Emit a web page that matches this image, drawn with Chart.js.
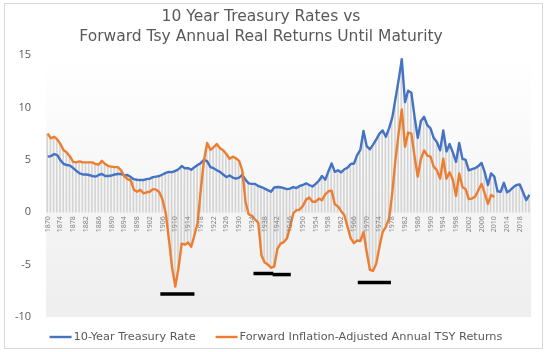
<!DOCTYPE html>
<html>
<head>
<meta charset="utf-8">
<script src="https://cdn.jsdelivr.net/npm/chart.js@4.4.1/dist/chart.umd.min.js"></script>
<style>
  html, body { margin: 0; padding: 0; background: #fff; }
  #wrap { position: relative; width: 548px; height: 352px; }
  #frame { position: absolute; left: 4px; top: 3px; width: 537px; height: 344px; border: 1px solid #d9d9d9; pointer-events: none; }
</style>
</head>
<body>
<div id="wrap">
  <canvas id="chart" width="548" height="352"></canvas>
  <div id="frame"></div>
</div>
<script>
var firstYear = 1870
var lastYear = 2021
var years = []
for (var yr = firstYear; yr <= lastYear; yr++) years.push(yr)

var titleLines = ['10 Year Treasury Rates vs', 'Forward Tsy Annual Real Returns Until Maturity']

// labels shown under the zero line, every 4th year
var tickYears = [1870, 1874, 1878, 1882, 1886, 1890, 1894, 1898, 1902, 1906,
  1910, 1914, 1918, 1922, 1926, 1930, 1934, 1938, 1942, 1946, 1950, 1954,
  1958, 1962, 1966, 1970, 1974, 1978, 1982, 1986, 1990, 1994, 1998, 2002,
  2006, 2010, 2014, 2018]

// 10-Year Treasury Rate, 1870-2021
var treasuryRate = [
  5.3, 5.35, 5.55, 5.45, 4.95, 4.6, 4.5, 4.45, 4.2, 3.95,
  3.7, 3.6, 3.6, 3.55, 3.45, 3.4, 3.55, 3.65, 3.45, 3.45,
  3.5, 3.6, 3.65, 3.65, 3.5, 3.55, 3.35, 3.15, 3.1, 3.07,
  3.07, 3.15, 3.2, 3.35, 3.4, 3.45, 3.6, 3.75, 3.85, 3.82,
  3.95, 4.1, 4.4, 4.2, 4.2, 4.05, 4.3, 4.5, 4.7, 5.0,
  4.85, 4.3, 4.2, 4.0, 3.85, 3.6, 3.35, 3.5, 3.3, 3.2,
  3.3, 3.55, 3.1, 2.75, 2.7, 2.7, 2.5, 2.4, 2.25, 2.1,
  1.96, 2.36, 2.4, 2.38, 2.3, 2.2, 2.25, 2.4, 2.3, 2.5,
  2.6, 2.75, 2.6, 2.45, 2.7, 3.0, 3.45, 3.1, 3.9, 4.65,
  3.85, 4.0, 3.8, 4.1, 4.25, 4.6, 4.65, 5.45, 5.95, 7.75,
  6.3, 6.0, 6.45, 6.95, 7.5, 7.8, 7.2, 8.0, 9.0, 10.8,
  12.6, 14.6, 10.5, 11.6, 11.4, 9.1, 7.1, 8.7, 9.1, 8.3,
  8.0, 7.1, 6.7, 5.9, 7.8, 5.8, 6.5, 5.7, 4.8, 6.6,
  5.1, 5.0, 4.0, 4.1, 4.2, 4.4, 4.7, 3.8, 2.6, 3.7,
  3.4, 2.0, 1.95, 2.8, 1.9, 2.1, 2.4, 2.6, 2.65, 1.9,
  1.15, 1.65
]

// Forward inflation-adjusted annual TSY returns, 1870-2010
var realReturns = [
  7.5, 7.05, 7.2, 6.95, 6.5, 5.9, 5.7, 5.3, 4.8, 4.75,
  4.85, 4.75, 4.75, 4.75, 4.75, 4.6, 4.55, 4.9, 4.6, 4.4,
  4.35, 4.3, 4.3, 4.0, 3.45, 3.15, 3.05, 2.15, 1.95, 2.15,
  1.8, 1.9, 1.95, 2.2, 2.15, 1.9, 1.2, -0.1, -2.6, -5.3,
  -7.1, -5.3, -3.0, -3.1, -2.9, -3.3, -2.2, -1.0, 2.2, 5.0,
  6.6, 5.95, 6.2, 6.5, 6.1, 5.9, 5.55, 5.1, 5.3, 5.15,
  4.9, 4.0, 1.0, -0.2, -0.35, -0.7, -1.0, -4.1, -4.8, -5.0,
  -5.3, -5.2, -3.5, -3.0, -2.85, -2.5, -1.4, -0.1, 0.2, 0.25,
  0.6, 1.2, 1.4, 1.0, 1.0, 1.3, 1.15, 1.7, 2.0, 2.05,
  0.75, 0.55, 0.1, -0.3, -1.4, -2.5, -2.95, -2.7, -2.75, -1.9,
  -3.8, -5.5, -5.6, -4.9, -3.3, -1.9, -1.4, -0.6, 1.8, 5.0,
  7.5, 9.8, 6.25, 7.6, 7.5, 5.3, 3.4, 5.1, 5.9, 5.4,
  5.3, 4.35, 4.0, 3.2, 5.1, 3.2, 3.8, 3.1, 1.55, 3.7,
  2.4, 2.2, 1.25, 1.3, 1.5, 2.1, 2.7, 1.8, 0.8, 1.65,
  1.45
]

// black marker bars under the big drawdowns
var markFrom = [1905.3, 1934.5, 1940.5, 1967.2]
var markTo = [1916.0, 1940.7, 1946.2, 1977.6]
var markLevel = [-7.8, -5.85, -5.95, -6.7]

// drop lines: from the lowest to the highest of zero and both series
var dropLines = years.map(function(yr, i) {
  var vals = [0, treasuryRate[i]]
  if (i < realReturns.length) vals.push(realReturns[i])
  return [Math.min.apply(null, vals), Math.max.apply(null, vals)]
})

var plotShade = {
  id: 'plotShade',
  beforeDraw: function(chart) {
    var a = chart.chartArea, ctx = chart.ctx
    var g = ctx.createLinearGradient(0, a.top, 0, a.bottom)
    g.addColorStop(0, '#ffffff')
    g.addColorStop(0.12, '#fdfdfd')
    g.addColorStop(1, '#eeeeee')
    ctx.save()
    ctx.fillStyle = g
    ctx.fillRect(a.left, a.top, a.right - a.left, a.bottom - a.top)
    ctx.restore()
  }
}

var yearLabels = {
  id: 'yearLabels',
  afterDatasetsDraw: function(chart) {
    var xs = chart.scales.x, ys = chart.scales.y, ctx = chart.ctx
    var y0 = ys.getPixelForValue(0)
    ctx.save()
    ctx.font = '7px "Open Sans"'
    ctx.fillStyle = '#808080'
    ctx.textAlign = 'right'
    ctx.textBaseline = 'middle'
    tickYears.forEach(function(t) {
      var px = xs.getPixelForValue(years.indexOf(t))
      ctx.save()
      ctx.translate(px, y0 + 4)
      ctx.rotate(-Math.PI / 2)
      ctx.fillText(String(t), 0, 0)
      ctx.restore()
    })
    ctx.restore()
  }
}

// title and legend placed like the original (slightly off-centre)
var titleAndLegend = {
  id: 'titleAndLegend',
  afterDraw: function(chart) {
    var ctx = chart.ctx
    ctx.save()
    ctx.fillStyle = '#595959'
    ctx.textAlign = 'center'
    ctx.textBaseline = 'middle'
    ctx.font = '15.5px "DejaVu Sans"'
    ctx.fillText(titleLines[0], 261, 17)
    ctx.fillText(titleLines[1], 261, 37)

    ctx.font = '11.3px "DejaVu Sans"'
    ctx.textAlign = 'left'
    var items = chart.data.datasets.slice(0, 2)
    var lineLen = 22, gapText = 2, gapItem = 20
    var widths = items.map(function(d) { return lineLen + gapText + ctx.measureText(d.label).width })
    var total = widths[0] + widths[1] + gapItem
    var x = 276 - total / 2, y = 337
    items.forEach(function(d, i) {
      ctx.strokeStyle = d.borderColor
      ctx.lineWidth = 2.4
      ctx.beginPath()
      ctx.moveTo(x, y)
      ctx.lineTo(x + lineLen, y)
      ctx.stroke()
      ctx.fillText(d.label, x + lineLen + gapText, y)
      x += widths[i] + gapItem
    })
    ctx.restore()
  }
}

var datasets = [
  {
    type: 'line',
    label: '10-Year Treasury Rate',
    data: treasuryRate,
    borderColor: '#4472C4',
    backgroundColor: '#4472C4',
    borderWidth: 2.4,
    pointRadius: 0,
    tension: 0,
    borderJoinStyle: 'round',
    order: 2
  },
  {
    type: 'line',
    label: 'Forward Inflation-Adjusted Annual TSY Returns',
    data: realReturns,
    borderColor: '#ED7D31',
    backgroundColor: '#ED7D31',
    borderWidth: 2.4,
    pointRadius: 0,
    tension: 0,
    borderJoinStyle: 'round',
    order: 1
  },
  {
    type: 'bar',
    label: 'drop',
    data: dropLines,
    backgroundColor: '#d4d4d4',
    barThickness: 1,
    order: 5
  }
]

markFrom.forEach(function(f, i) {
  datasets.push({
    type: 'line',
    label: 'mark' + i,
    xAxisID: 'xm',
    data: [{ x: f - firstYear, y: markLevel[i] }, { x: markTo[i] - firstYear, y: markLevel[i] }],
    borderColor: '#000000',
    borderWidth: 3.5,
    pointRadius: 0,
    order: 0
  })
})

new Chart(document.getElementById('chart'), {
  data: { labels: years, datasets: datasets },
  options: {
    responsive: false,
    animation: false,
    layout: { padding: { left: 0, right: 17, top: 55, bottom: 35 } },
    scales: {
      x: { type: 'category', offset: true, display: false },
      xm: { type: 'linear', display: false, min: -0.5, max: years.length - 0.5 },
      y: {
        min: -10, max: 15,
        ticks: { stepSize: 5, padding: 15, color: '#595959', font: { size: 11, family: 'Open Sans' } },
        grid: { display: false, drawTicks: false, tickLength: 0 },
        border: { display: false }
      }
    },
    plugins: {
      tooltip: { enabled: false },
      title: { display: false },
      legend: { display: false }
    }
  },
  plugins: [plotShade, yearLabels, titleAndLegend]
})
</script>
</body>
</html>
